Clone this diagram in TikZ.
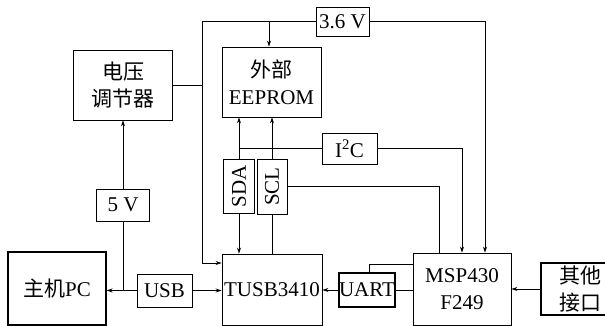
\documentclass[tikz,border=0pt]{standalone}
\usepackage{fontspec}
\setmainfont{Liberation Serif}
\newfontfamily\cjk{Noto Sans CJK SC}
\usetikzlibrary{arrows.meta}
\begin{document}
\begin{tikzpicture}[x=1pt,y=-1pt,
  box/.style={draw, line width=0.9pt, inner sep=0pt, align=center, font=\fontsize{21}{27}\selectfont},
  conn/.style={line width=0.7pt},
  arr/.style={conn, -{Stealth[length=6pt,width=4pt]}}]
\useasboundingbox (0,0) rectangle (605,326);
\node[box, minimum width=99pt, minimum height=70pt] (reg) at (123,85) {{\cjk 电压}\\{\cjk 调节器}};
\node[box, minimum width=99pt, minimum height=70pt] (eeprom) at (271.5,82) {{\cjk 外部}\\EEPROM};
\node[box, minimum width=53pt, minimum height=29pt] (v36) at (342.5,21.5) {3.6 V};
\node[box, minimum width=55pt, minimum height=31pt] (i2c) at (349.5,148.5) {I\textsuperscript{2}C};
\node[box, minimum width=31pt, minimum height=54pt] (sda) at (239,186) {\rotatebox{90}{SDA}};
\node[box, minimum width=30pt, minimum height=55pt] (scl) at (272,186.5) {\rotatebox{90}{SCL}};
\node[box, minimum width=53pt, minimum height=32pt] (v5) at (123,205) {5 V};
\node[box, line width=1.05pt, minimum width=98pt, minimum height=73pt] (pc) at (57,288.5) {{\cjk 主机}PC};
\node[box, minimum width=55pt, minimum height=33pt] (usb) at (164.5,290.5) {USB};
\node[box, minimum width=100pt, minimum height=71pt] (tusb) at (272,289.5) {TUSB3410};
\node[box, line width=1.05pt, minimum width=56pt, minimum height=34pt] (uart) at (367,290) {UART};
\node[box, minimum width=98pt, minimum height=72pt] (msp) at (462,289) {MSP430\\F249};
\node[box, line width=1.05pt, minimum width=78pt, minimum height=52pt] (other) at (580,289) {{\cjk 其他}\\{\cjk 接口}};
% 3.6 V supply
\coordinate (tl) at (202,21.5);
\coordinate (tr) at (485,21.5);
\coordinate (bl) at (202,263);
\draw[conn] (v36.west) -- (tl);
\draw[arr] (v36.east) -- (tr) -- (tr |- msp.north);
\draw[arr] (tl) -- (bl) -- (bl -| tusb.west);
\draw[arr] ([xshift=-2.5pt]eeprom.north |- tl) -- ([xshift=-2.5pt]eeprom.north);
\draw[conn] (reg.east) -- (reg.east -| tl);
% 5 V / USB
\coordinate (j) at (123,290.5);
\draw[arr] (v5.north) -- (reg.south);
\draw[conn] (v5.south) -- (j);
\draw[arr] (usb.west) -- (usb.west -| pc.east);
\draw[arr] (usb.east) -- (usb.east -| tusb.west);
% I2C
\draw[arr] (sda.south) -- (sda.south |- tusb.north);
\draw[arr] (sda.north) -- (sda.north |- eeprom.south);
\draw[conn] (i2c.west -| sda.north) -- (i2c.west);
\draw[arr] (i2c.east) -| (msp.north);
\draw[arr] (scl.north) -- (scl.north |- eeprom.south);
\draw[conn] (scl.south) -- (scl.south |- tusb.north);
\draw[conn] (scl.east) -| ([xshift=-23pt]msp.north);
% UART
\coordinate (ut) at (369,264);
\draw[conn] (uart.east) -- (uart.east -| msp.west);
\draw[arr] (uart.west) -- (uart.west -| tusb.east);
\draw[conn] (ut |- uart.north) -- (ut) -- (ut -| msp.west);
\draw[arr] (other.west) -- (other.west -| msp.east);
\end{tikzpicture}
\end{document}
